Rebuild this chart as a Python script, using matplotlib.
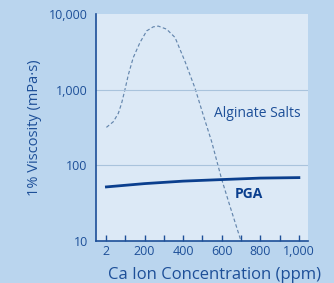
import numpy as np
import matplotlib.pyplot as plt

# data
alg_x = [2, 38, 64, 81, 98, 116, 141, 176, 211, 245, 271, 314, 358, 409,
         461, 504, 548, 599, 642, 700]
alg_y = [318, 378, 489, 665, 1000, 1585, 2650, 4200, 5990, 6770, 6920, 6310,
         4890, 2380, 1055, 464, 205, 66.5, 29.3, 10]
pga_x = [2, 200, 400, 600, 800, 1000]
pga_y = [52, 57.5, 62, 65, 68, 69]
xticks = [2, 100, 200, 300, 400, 500, 600, 700, 800, 900, 1000]
xlabels = ['2', '', '200', '', '400', '', '600', '', '800', '', '1,000']
yticks = [10, 100, 1000, 10000]
ylabels = ['10', '100', '1,000', '10,000']

txt = '#1d4f98'
plt.rcParams['font.family'] = ['Open Sans', 'DejaVu Sans']

fig = plt.figure(figsize=(3.34, 2.83), dpi=100)
fig.patch.set_facecolor('#bad5ee')
ax = fig.add_axes([0.2874, 0.148, 0.6346, 0.8025])
ax.set_facecolor('#dce9f6')

ax.plot(alg_x, alg_y, color='#6486ad', lw=0.85, ls=(0, (3, 2)))
ax.plot(pga_x, pga_y, color='#0b3f8e', lw=2)

ax.set_yscale('log')
ax.set_ylim(10, 10000)
ax.set_xlim(-52, 1047)
ax.set_yticks(yticks)
ax.set_yticklabels(ylabels)
ax.minorticks_off()
ax.set_xticks(xticks)
ax.set_xticklabels(xlabels)
ax.tick_params(axis='x', direction='in', length=4, width=1, color='#1d4f98',
               labelsize=9, labelcolor=txt, pad=3)
ax.tick_params(axis='y', length=0, labelsize=9, labelcolor=txt, pad=6)

for v in [100, 1000]:
    ax.axhline(v, color='#a9c3dc', lw=0.8)

for s in ['top', 'right']:
    ax.spines[s].set_visible(False)
for s in ['left', 'bottom']:
    ax.spines[s].set_color('#1d4f98')
    ax.spines[s].set_linewidth(1.2)

ax.set_xlabel('Ca Ion Concentration (ppm)', fontsize=12, color=txt,
              labelpad=6, x=0.56)
ax.set_ylabel('1% Viscosity (mPa·s)', fontsize=10.5, color=txt, labelpad=5)

ax.text(560, 490, 'Alginate Salts', fontsize=10, color='#1d4f98', va='center')
ax.text(670, 42, 'PGA', fontsize=10, color='#0b3f8e', fontweight='bold', va='center')

fig.savefig('out.png', dpi=100, facecolor=fig.get_facecolor())
